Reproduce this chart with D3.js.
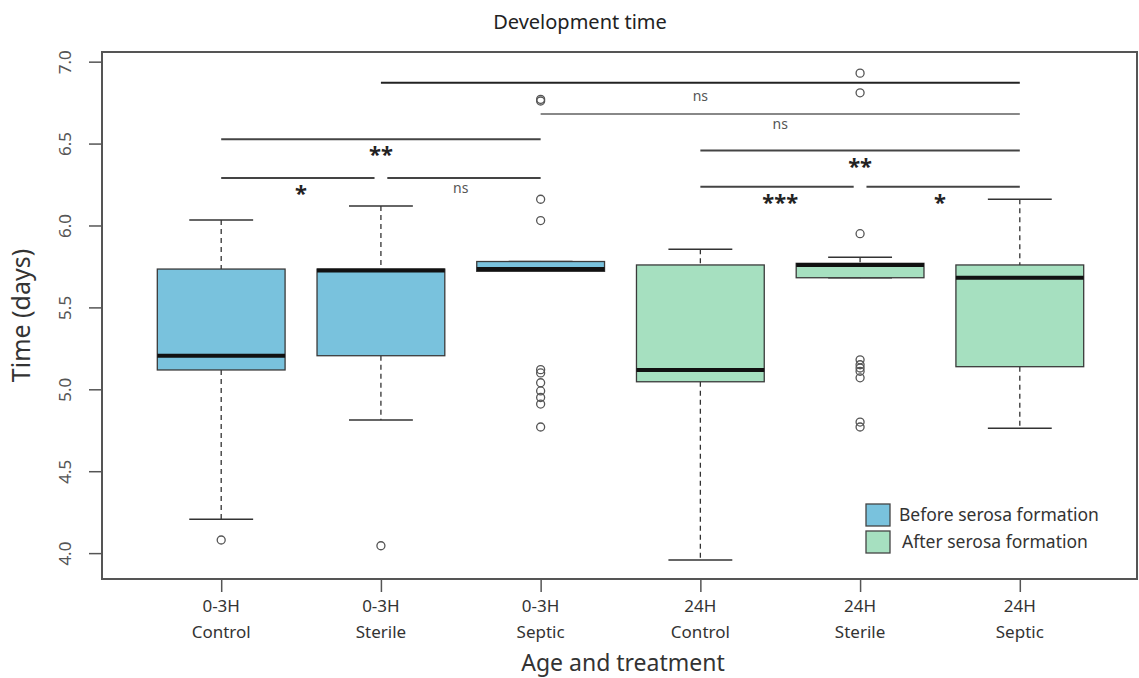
<!DOCTYPE html>
<html>
<head>
<meta charset="utf-8">
<script src="https://cdn.jsdelivr.net/npm/d3@7"></script>
<style>
    body { margin: 0; background: #fff; }
    text { font-family: "Noto Sans", "Open Sans", sans-serif; }
</style>
</head>
<body>
<div id="chart"></div>
<script>
// boxplot data (days)
var ageLabels = ["0-3H", "0-3H", "0-3H", "24H", "24H", "24H"];
var treatLabels = ["Control", "Sterile", "Septic", "Control", "Sterile", "Septic"];
var phase = ["before", "before", "before", "after", "after", "after"];

var whiskLo = [4.206, 4.813, 5.72, 3.958, 5.681, 4.762];
var q1 = [5.118, 5.205, 5.72, 5.046, 5.681, 5.138];
var medians = [5.205, 5.725, 5.735, 5.118, 5.759, 5.681];
var q3 = [5.734, 5.734, 5.78, 5.759, 5.769, 5.759];
var whiskHi = [6.034, 6.119, 5.78, 5.855, 5.806, 6.160];
var outliers = [
    [4.08],
    [4.045],
    [6.77, 6.76, 6.16, 6.03, 5.12, 5.10, 5.04, 4.99, 4.95, 4.91, 4.77],
    [],
    [6.93, 6.81, 5.95, 5.18, 5.15, 5.13, 5.11, 5.07, 4.80, 4.77],
    []
];

var yTicks = [4.0, 4.5, 5.0, 5.5, 6.0, 6.5, 7.0];

// significance comparisons: group a, group b, bar level, label
var compA = [2, 3, 1, 4, 1, 2, 4, 5];
var compB = [6, 6, 3, 6, 2, 3, 5, 6];
var compLevel = [6.872, 6.681, 6.526, 6.457, 6.29, 6.29, 6.237, 6.237];
var compLabel = ["ns", "ns", "**", "**", "*", "ns", "***", "*"];

var legendLabels = ["Before serosa formation", "After serosa formation"];

var w = 1139,
    h = 678;

var svg = d3.select("#chart")
    .append("svg")
    .attr("width", w)
    .attr("height", h);

// plot frame (window.top is taken, so own names)
var frameL = 102, frameR = 1137, frameT = 52, frameB = 579;

var xScale = d3.scaleLinear()
    .domain([0.26, 6.74])
    .range([103, 1138]);

var yScale = d3.scaleLinear()
    .domain([3.842, 7.059])
    .range([frameB, frameT]);

var fillColor = d3.scaleOrdinal()
    .domain(["before", "after"])
    .range(["#79c2dd", "#a6e0c0"]);

var boxW = 0.8, capW = 0.4;

var boxes = svg.selectAll("g.box")
    .data(d3.range(6))
    .enter()
    .append("g")
    .attr("class", "box");

// dashed whiskers
boxes.append("line")
    .attr("x1", function (i) { return xScale(i + 1); })
    .attr("x2", function (i) { return xScale(i + 1); })
    .attr("y1", function (i) { return yScale(whiskHi[i]); })
    .attr("y2", function (i) { return yScale(q3[i]); })
    .attr("stroke", "#333").attr("stroke-width", 1.3).attr("stroke-dasharray", "5,4");
boxes.append("line")
    .attr("x1", function (i) { return xScale(i + 1); })
    .attr("x2", function (i) { return xScale(i + 1); })
    .attr("y1", function (i) { return yScale(q1[i]); })
    .attr("y2", function (i) { return yScale(whiskLo[i]); })
    .attr("stroke", "#333").attr("stroke-width", 1.3).attr("stroke-dasharray", "5,4");

// whisker caps
[whiskHi, whiskLo].forEach(function (arr) {
    boxes.append("line")
        .attr("x1", function (i) { return xScale(i + 1 - capW / 2); })
        .attr("x2", function (i) { return xScale(i + 1 + capW / 2); })
        .attr("y1", function (i) { return yScale(arr[i]); })
        .attr("y2", function (i) { return yScale(arr[i]); })
        .attr("stroke", "#333").attr("stroke-width", 1.5);
});

// the box
boxes.append("rect")
    .attr("x", function (i) { return xScale(i + 1 - boxW / 2); })
    .attr("y", function (i) { return yScale(q3[i]); })
    .attr("width", function (i) { return xScale(i + 1 + boxW / 2) - xScale(i + 1 - boxW / 2); })
    .attr("height", function (i) { return yScale(q1[i]) - yScale(q3[i]); })
    .attr("fill", function (i) { return fillColor(phase[i]); })
    .attr("stroke", "#3a3a3a").attr("stroke-width", 1.3);

// thick median
boxes.append("line")
    .attr("x1", function (i) { return xScale(i + 1 - boxW / 2); })
    .attr("x2", function (i) { return xScale(i + 1 + boxW / 2); })
    .attr("y1", function (i) { return yScale(medians[i]); })
    .attr("y2", function (i) { return yScale(medians[i]); })
    .attr("stroke", "#111").attr("stroke-width", 4);

// outlier circles
boxes.selectAll("circle")
    .data(function (i) { return outliers[i].map(function (v) { return { i: i, v: v }; }); })
    .enter()
    .append("circle")
    .attr("cx", function (d) { return xScale(d.i + 1); })
    .attr("cy", function (d) { return yScale(d.v); })
    .attr("r", 4)
    .attr("fill", "none")
    .attr("stroke", "#555")
    .attr("stroke-width", 1.3);

// significance bars, a small gap where two bars meet at the same level
var gap = 0.04;
var comps = d3.range(compA.length).map(function (k) {
    var a = compA[k], b = compB[k];
    var shrinkA = 0, shrinkB = 0;
    for (var j = 0; j < compA.length; j++) {
        if (j == k || compLevel[j] != compLevel[k]) continue;
        if (compB[j] == a) shrinkA = gap;
        if (compA[j] == b) shrinkB = gap;
    }
    return { a: a + shrinkA, b: b - shrinkB, mid: (a + b) / 2, y: compLevel[k], label: compLabel[k], k: k };
});

svg.selectAll("line.sig")
    .data(comps)
    .enter()
    .append("line")
    .attr("class", "sig")
    .attr("x1", function (d) { return xScale(d.a); })
    .attr("x2", function (d) { return xScale(d.b); })
    .attr("y1", function (d) { return yScale(d.y); })
    .attr("y2", function (d) { return yScale(d.y); })
    .attr("stroke", function (d) { return d.k == 1 ? "#888" : (d.k == 0 ? "#222" : "#444"); })
    .attr("stroke-width", 2);

svg.selectAll("text.sig")
    .data(comps)
    .enter()
    .append("text")
    .attr("class", "sig")
    .attr("x", function (d) { return xScale(d.mid); })
    .attr("y", function (d) {
        var off = d.label == "ns" ? 15 : 23;
        if (d.k == 0) off += 3;
        return yScale(d.y) + off;
    })
    .attr("text-anchor", "middle")
    .attr("font-size", function (d) { return d.label == "ns" ? 14 : 22; })
    .attr("font-weight", function (d) { return d.label == "ns" ? "normal" : "bold"; })
    .attr("fill", function (d) { return d.label == "ns" ? "#555" : "#222"; })
    .text(function (d) { return d.label; });

// frame
svg.append("rect")
    .attr("x", frameL).attr("y", frameT)
    .attr("width", frameR - frameL).attr("height", frameB - frameT)
    .attr("fill", "none").attr("stroke", "#555").attr("stroke-width", 2);

// y axis (labels parallel to the axis, like R)
var yAxis = d3.axisLeft(yScale)
    .tickValues(yTicks)
    .tickFormat(d3.format(".1f"))
    .tickSize(13)
    .tickPadding(0);

var gy = svg.append("g")
    .attr("transform", "translate(" + frameL + ",0)")
    .call(yAxis);
gy.select(".domain").remove();
gy.selectAll("line").attr("stroke", "#555").attr("stroke-width", 1.5);
gy.selectAll("text")
    .attr("transform", "rotate(-90)")
    .attr("x", 0).attr("y", -37)
    .attr("dy", "0.35em")
    .attr("text-anchor", "middle")
    .attr("font-size", 17)
    .attr("fill", "#555");

// x axis ticks, labels as two lines
var xAxis = d3.axisBottom(xScale)
    .tickValues([1, 2, 3, 4, 5, 6])
    .tickFormat("")
    .tickSize(13);

var gx = svg.append("g")
    .attr("transform", "translate(0," + frameB + ")")
    .call(xAxis);
gx.select(".domain").remove();
gx.selectAll("line").attr("stroke", "#555").attr("stroke-width", 1.5);

var xl = svg.selectAll("text.xlab")
    .data(d3.range(6))
    .enter()
    .append("text")
    .attr("class", "xlab")
    .attr("text-anchor", "middle")
    .attr("font-size", 17)
    .attr("fill", "#333");
xl.append("tspan")
    .attr("x", function (i) { return xScale(i + 1); })
    .attr("y", 612)
    .text(function (i) { return ageLabels[i]; });
xl.append("tspan")
    .attr("x", function (i) { return xScale(i + 1); })
    .attr("y", 638)
    .text(function (i) { return treatLabels[i]; });

// titles
svg.append("text")
    .attr("x", 580).attr("y", 29)
    .attr("text-anchor", "middle")
    .attr("font-size", 20)
    .attr("fill", "#222")
    .text("Development time");

svg.append("text")
    .attr("x", 623).attr("y", 671)
    .attr("text-anchor", "middle")
    .attr("font-size", 23)
    .attr("fill", "#333")
    .text("Age and treatment");

svg.append("text")
    .attr("transform", "translate(30," + ((frameT + frameB) / 2) + ") rotate(-90)")
    .attr("text-anchor", "middle")
    .attr("font-size", 25)
    .attr("fill", "#333")
    .text("Time (days)");

// legend
var legend = svg.selectAll("g.legend")
    .data(legendLabels)
    .enter()
    .append("g")
    .attr("class", "legend")
    .attr("transform", function (d, i) { return "translate(866," + (504 + i * 27) + ")"; });

legend.append("rect")
    .attr("width", 24).attr("height", 22)
    .attr("fill", function (d, i) { return fillColor(i == 0 ? "before" : "after"); })
    .attr("stroke", "#444").attr("stroke-width", 1.3);

legend.append("text")
    .attr("x", function (d, i) { return i == 0 ? 33 : 36; })
    .attr("y", 11)
    .attr("dy", "0.35em")
    .attr("font-size", 17.5)
    .attr("fill", "#333")
    .text(function (d) { return d; });
</script>
</body>
</html>
